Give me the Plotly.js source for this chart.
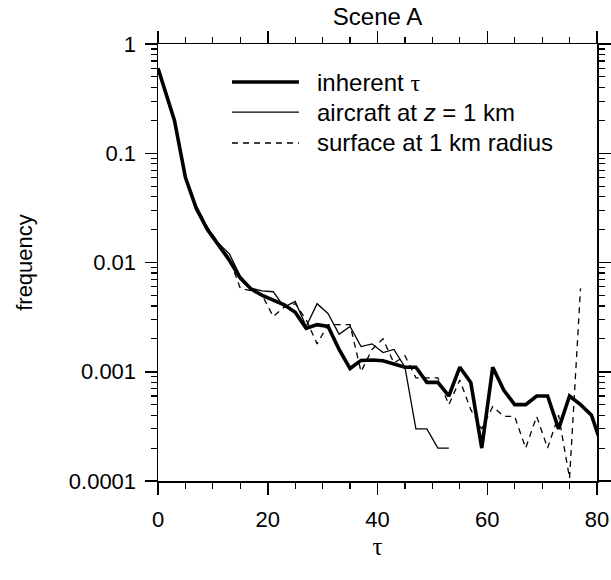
<!DOCTYPE html>
<html>
<head>
<meta charset="utf-8">
<script src="https://cdn.plot.ly/plotly-3.0.1.min.js"></script>
<style>html,body{margin:0;padding:0;background:#fff;}#chart{width:611px;height:580px;}</style>
</head>
<body>
<div id="chart"></div>
<script>
// optical depth bins (tau)
const tauInherent = [0,3,5,7,9,11,13,15,17,19,21,23,25,27,29,31,33,35,37,39,41,43,45,47,49,51,53,55,57,59,61,63,65,67,69,71,73,75,77,79,81];
const freqInherent = [0.6,0.2,0.06,0.031,0.020,0.0145,0.0105,0.0072,0.0057,0.0050,0.0045,0.0041,0.0035,0.0025,0.0027,0.0026,0.0016,0.00107,0.00127,0.00128,0.00126,0.00117,0.0011,0.0011,0.0008,0.0008,0.0006,0.0011,0.0008,0.0002,0.0011,0.00068,0.0005,0.0005,0.0006,0.0006,0.0003,0.0006,0.0005,0.0004,0.0002];

const tauAircraft = [0,3,5,7,9,11,13,15,17,19,21,23,25,27,29,31,33,35,37,39,41,43,45,47,49,51,53];
const freqAircraft = [0.6,0.2,0.062,0.033,0.021,0.015,0.012,0.0075,0.0058,0.0055,0.0054,0.0039,0.0044,0.0026,0.0042,0.0034,0.0022,0.0026,0.0017,0.0018,0.0015,0.0016,0.0011,0.0003,0.0003,0.0002,0.0002];

const tauSurface = [0,3,5,7,9,11,13,15,17,19,21,23,25,27,29,31,33,35,37,39,41,43,45,47,49,51,53,55,57,59,61,63,65,67,69,71,73,75,77];
const freqSurface = [0.6,0.2,0.062,0.032,0.021,0.015,0.011,0.0058,0.0055,0.0050,0.0032,0.0039,0.0042,0.0030,0.0018,0.0027,0.0027,0.0027,0.0010,0.0016,0.0020,0.0012,0.0014,0.00088,0.00088,0.00088,0.0005,0.00084,0.00045,0.0003,0.00048,0.00039,0.00039,0.0002,0.00039,0.0002,0.0004,0.000106,0.0058];

const seriesNames = ["inherent τ", "aircraft at z = 1 km", "surface at 1 km radius"];
const yTickVals = [0.0001,0.001,0.01,0.1,1];
const yTickText = ["0.0001","0.001","0.01","0.1","1"];
const xTickVals = [0,20,40,60,80];

const minorY = [];
for (let e = -4; e < 0; e++) for (let d = 2; d <= 9; d++) minorY.push(d * Math.pow(10, e));

const font = "Liberation Sans, Arial, Helvetica, sans-serif";
const serif = "Liberation Serif, Times New Roman, serif";

const traces = [
  {x: tauInherent, y: freqInherent, name: seriesNames[0], mode: "lines", line: {color: "#000", width: 3.6}},
  {x: tauAircraft, y: freqAircraft, name: seriesNames[1], mode: "lines", line: {color: "#000", width: 1.3}},
  {x: tauSurface, y: freqSurface, name: seriesNames[2], mode: "lines", line: {color: "#000", width: 1.3, dash: "6px,5px"}}
];

const legY = [0.913, 0.844, 0.7735];
const legText = ["inherent <span style=\"font-family:" + serif + "\">τ</span>", "aircraft at <i>z</i> = 1 km", "surface at 1 km radius"];
const legStyles = [{width: 3.6}, {width: 1.3}, {width: 1.3, dash: "6px,5px"}];
const shapes = [], annotations = [];
for (let i = 0; i < 3; i++) {
  shapes.push({type: "line", xref: "paper", yref: "paper", x0: 0.1686, x1: 0.321, y0: legY[i], y1: legY[i],
    line: Object.assign({color: "#000"}, legStyles[i])});
  annotations.push({xref: "paper", yref: "paper", x: 0.3576, y: legY[i], xanchor: "left", yanchor: "middle",
    text: legText[i], showarrow: false, font: {family: font, size: 24, color: "#000"}});
}

const layout = {
  width: 611, height: 580,
  margin: {l: 158, r: 14, t: 44, b: 99},
  paper_bgcolor: "#fff", plot_bgcolor: "#fff",
  showlegend: false,
  font: {family: font, size: 22, color: "#000"},
  title: {text: "Scene A", x: 0.5, xref: "paper", y: 0.971, yanchor: "middle", font: {family: font, size: 24, color: "#000"}},
  xaxis: {
    range: [0, 80], tickvals: xTickVals, ticks: "outside", ticklen: 12, tickwidth: 1.5, tickcolor: "#000",
    showline: true, linecolor: "#000", linewidth: 1.5, mirror: "allticks", showgrid: false, zeroline: false,
    tickfont: {family: font, size: 22}, ticklabelstandoff: 6,
    minor: {dtick: 5, ticks: "outside", ticklen: 6, tickwidth: 1.2, tickcolor: "#000", showgrid: false},
    title: {text: "τ", font: {family: serif, size: 25}, standoff: 6}
  },
  yaxis: {
    type: "log", range: [-4, 0], tickvals: yTickVals, ticktext: yTickText, ticks: "outside", ticklen: 12, tickwidth: 1.5, tickcolor: "#000",
    showline: true, linecolor: "#000", linewidth: 1.5, mirror: "allticks", showgrid: false, zeroline: false,
    tickfont: {family: font, size: 22}, ticklabelstandoff: 4,
    minor: {tickmode: "array", tickvals: minorY, ticks: "outside", ticklen: 6, tickwidth: 1.2, tickcolor: "#000", showgrid: false},
    title: {text: "frequency", font: {family: font, size: 22}, standoff: 30}
  },
  shapes: shapes,
  annotations: annotations
};

Plotly.newPlot("chart", traces, layout, {displayModeBar: false, staticPlot: true});
</script>
</body>
</html>
